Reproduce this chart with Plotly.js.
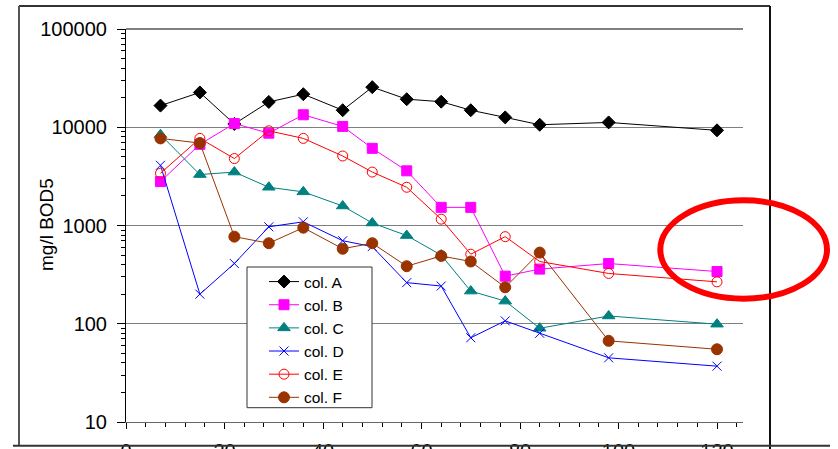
<!DOCTYPE html>
<html>
<head>
<meta charset="utf-8">
<script src="https://cdn.plot.ly/plotly-3.0.1.min.js"></script>
<style>
  html, body { margin: 0; padding: 0; background: #ffffff; }
  #chart { width: 838px; height: 449px; }
</style>
</head>
<body>
<div id="chart"></div>
<script>
// ---- data ----
const xValues = [7, 15, 22, 29, 36, 44, 50, 57, 64, 70, 77, 84, 98, 120];
const colA = [16600, 22600, 10800, 18100, 21700, 14900, 25600, 19300, 18200, 14900, 12600, 10600, 11200, 9300];
const colB = [2800, 6700, 10900, 8700, 13400, 10200, 6100, 3600, 1530, 1530, 305, 360, 410, 340];
const colC = [8400, 3300, 3500, 2450, 2200, 1580, 1060, 790, 500, 215, 170, 90, 120, 99];
const colD = [4100, 200, 410, 970, 1090, 700, 610, 262, 242, 72, 107, 80, 45, 37];
const colE = [3400, 7700, 4800, 9200, 7700, 5100, 3500, 2450, 1160, 510, 770, 430, 325, 267];
const colF = [7700, 6900, 770, 660, 950, 580, 660, 385, 490, 430, 235, 530, 67, 55];
const seriesNames = ["col. A", "col. B", "col. C", "col. D", "col. E", "col. F"];
const yTickVals = [10, 100, 1000, 10000, 100000];
const yTickText = ["10", "100", "1000", "10000", "100000"];
const yTitle = "mg/l BOD5";

// ---- styles ----
const FONT = "Liberation Sans, Arial, Helvetica, sans-serif";
const styles = [
  {color: "#000000", symbol: "diamond", size: 10, fill: "#000000"},
  {color: "#ff00ff", symbol: "square", size: 10, fill: "#ff00ff"},
  {color: "#008080", symbol: "triangle-up", size: 11, fill: "#008080"},
  {color: "#0000ff", symbol: "x-thin-open", size: 9, fill: "#0000ff"},
  {color: "#ff0000", symbol: "circle-open", size: 10, fill: "#ff0000"},
  {color: "#993300", symbol: "circle", size: 11, fill: "#993300"}
];
const allY = [colA, colB, colC, colD, colE, colF];

const traces = allY.map((ys, i) => ({
  type: "scatter",
  mode: "lines+markers",
  name: seriesNames[i],
  x: xValues,
  y: ys,
  line: {color: styles[i].color, width: 1},
  marker: {
    symbol: styles[i].symbol,
    size: styles[i].size,
    color: styles[i].fill,
    line: {color: styles[i].color, width: 1}
  },
  cliponaxis: false
}));

// plot area pixel geometry
const L = 126, T = 29, W = 617, H = 393;
const px = v => (v - L) / W;           // pixel x -> paper
const py = v => (T + H - v) / H;       // pixel y -> paper

const layout = {
  width: 838,
  height: 449,
  margin: {l: L, r: 838 - L - W, t: T, b: 449 - T - H, pad: 0, autoexpand: false},
  paper_bgcolor: "#ffffff",
  plot_bgcolor: "#ffffff",
  font: {family: FONT, size: 19, color: "#000000"},
  showlegend: true,
  legend: {
    x: px(264), y: py(265), xanchor: "left", yanchor: "top",
    bgcolor: "rgba(0,0,0,0)", borderwidth: 0,
    font: {family: FONT, size: 15.5, color: "#000000"},
    itemwidth: 30, tracegroupgap: 0
  },
  xaxis: {
    type: "linear",
    range: [0, W / 4.925],
    tick0: 0, dtick: 20,
    ticks: "outside", ticklen: 6, tickwidth: 1, tickcolor: "#000000",
    minor: {dtick: 4, tick0: 0, ticks: "outside", ticklen: 4, tickwidth: 1, tickcolor: "#000000", showgrid: false},
    showgrid: false, zeroline: false,
    showline: true, linecolor: "#666666", linewidth: 1,
    ticklabelstandoff: 5,
    automargin: false,
    tickfont: {family: FONT, size: 20, color: "#000000"}
  },
  yaxis: {
    type: "log",
    range: [1, 5],
    tickmode: "array", tickvals: yTickVals, ticktext: yTickText,
    ticks: "outside", ticklen: 8, tickwidth: 1, tickcolor: "#000000",
    minor: {dtick: "D1", ticks: "outside", ticklen: 4, tickwidth: 1, tickcolor: "#000000", showgrid: false},
    showgrid: true, gridcolor: "#7f7f7f", gridwidth: 1.3,
    zeroline: false,
    showline: true, linecolor: "#000000", linewidth: 1,
    ticklabelstandoff: 6,
    automargin: false,
    tickfont: {family: FONT, size: 20, color: "#000000"}
  },
  annotations: [{
    text: yTitle, xref: "paper", yref: "paper",
    x: px(46), y: py(225), xanchor: "center", yanchor: "middle",
    textangle: -90, showarrow: false,
    font: {family: FONT, size: 19, color: "#000000"}
  }],
  shapes: [
    // top line of plot area (100000)
    {type: "line", xref: "paper", yref: "paper", x0: 0, x1: 1, y0: 1, y1: 1, line: {color: "#000000", width: 1}, layer: "above"},
    // outer chart frame
    {type: "line", xref: "paper", yref: "paper", x0: px(19), x1: px(770), y0: py(6), y1: py(6), line: {color: "#333333", width: 2}},
    {type: "line", xref: "paper", yref: "paper", x0: px(19), x1: px(19), y0: py(6), y1: py(446), line: {color: "#555555", width: 2}},
    {type: "line", xref: "paper", yref: "paper", x0: px(770), x1: px(770), y0: py(6), y1: py(449), line: {color: "#111111", width: 2}},
    {type: "line", xref: "paper", yref: "paper", x0: px(13), x1: px(830), y0: py(445.7), y1: py(445.7), line: {color: "#333333", width: 2}},
    // legend box
    {type: "rect", xref: "paper", yref: "paper", x0: px(247), x1: px(372), y0: py(407.7), y1: py(267),
     fillcolor: "#ffffff", line: {color: "#333333", width: 1}, layer: "above"},
    // red ellipse highlight
    {type: "circle", xref: "paper", yref: "paper", x0: px(660.3), x1: px(827), y0: py(298.7), y1: py(200.3),
     line: {color: "#ff0000", width: 6}, fillcolor: "rgba(0,0,0,0)", layer: "above"}
  ]
};

Plotly.newPlot("chart", traces, layout, {staticPlot: true, displayModeBar: false});
</script>
</body>
</html>
